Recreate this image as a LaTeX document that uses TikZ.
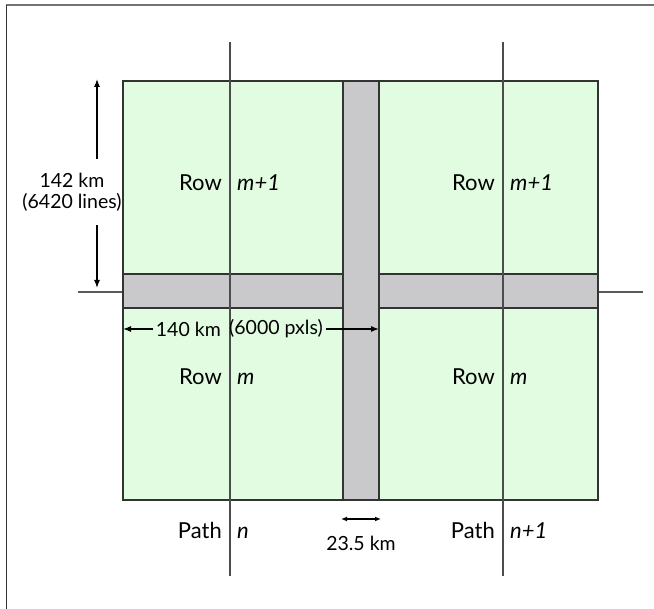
\documentclass[tikz,border=0pt]{standalone}
\usepackage{fontspec}
\setmainfont{Lato}
\usetikzlibrary{arrows.meta}

\definecolor{cellgreen}{RGB}{226,252,226}
\definecolor{stripgray}{RGB}{201,201,204}

\begin{document}
\begin{tikzpicture}[x=1pt, y=-1pt,
    cell/.style={fill=cellgreen},
    strip/.style={fill=stripgray, draw=black!80, line width=1.2pt},
    border/.style={draw=black!80, line width=1.2pt},
    pathline/.style={draw=black!70, line width=1.5pt},
    word/.style={inner sep=0pt, font=\fontsize{22}{26}\selectfont},
    var/.style={inner sep=0pt, font=\fontsize{22}{26}\selectfont\itshape},
    dim/.style={inner sep=0pt, align=center, font=\fontsize{19.5}{21}\selectfont},
    dimarrow/.style={line width=1.2pt, -{Latex[length=8pt,width=6pt]}}
]
\useasboundingbox (0,0) rectangle (654,609);
% frame
\draw[black!55, line width=1.5pt] (6,5) -- (654,5);
\draw[black!80, line width=0.8pt] (6,5) -- (6,609);

% scenes and overlap strips
\fill[cell] (123,81) rectangle (598,500);
\draw[black!65, line width=1.5pt] (78,292) -- (643,292);
\draw[strip] (123,274) rectangle (343,308);
\draw[strip] (379,274) rectangle (598,308);
\draw[strip] (343,81) rectangle (379,500);
\draw[border] (123,81) rectangle (598,500);

% path centre lines
\draw[pathline] (230,42) -- (230,576);
\draw[pathline] (503,42) -- (503,576);

% row labels
\node[word, anchor=base east] (rowA) at (222,191) {Row};
\node[var, anchor=base west] (rowAnum) at (237,191) {m+1};
\node[word, anchor=base east] (rowB) at (495,191) {Row};
\node[var, anchor=base west] (rowBnum) at (510,191) {m+1};
\node[word, anchor=base east] (rowC) at (222,385) {Row};
\node[var, anchor=base west] (rowCnum) at (237,385) {m};
\node[word, anchor=base east] (rowD) at (495,385) {Row};
\node[var, anchor=base west] (rowDnum) at (510,385) {m};

% path labels
\node[word, anchor=base east] (pathA) at (222,539) {Path};
\node[var, anchor=base west] (pathAnum) at (237,539) {n};
\node[word, anchor=base east] (pathB) at (495,539) {Path};
\node[var, anchor=base west] (pathBnum) at (510,539) {n+1};

% row height
\node[dim] (height) at (72,192) {142 km\\(6420 lines)};
\coordinate (htop) at (97,79);
\coordinate (hbot) at (97,288);
\draw[dimarrow] (height.north -| htop) ++(0,-14) -- (htop);
\draw[dimarrow] (height.south -| hbot) ++(0,14) -- (hbot);

% scene width
\node[dim, anchor=east] (widthkm) at (221,329) {140 km};
\node[dim, anchor=west] (widthpx) at (229,329) {(6000 pxls)};
\coordinate (wleft) at (123,329);
\coordinate (wright) at (379,329);
\draw[dimarrow] (widthkm.west) ++(-3,0) -- (wleft);
\draw[dimarrow] (widthpx.east) ++(3,0) -- (wright);

% overlap width
\coordinate (oleft) at (341,519);
\coordinate (oright) at (381,519);
\draw[line width=1.2pt, {Latex[length=6pt,width=5pt]}-{Latex[length=6pt,width=5pt]}] (oleft) -- (oright);
\node[dim] (overlap) at (361,543) {23.5 km};
\end{tikzpicture}
\end{document}
